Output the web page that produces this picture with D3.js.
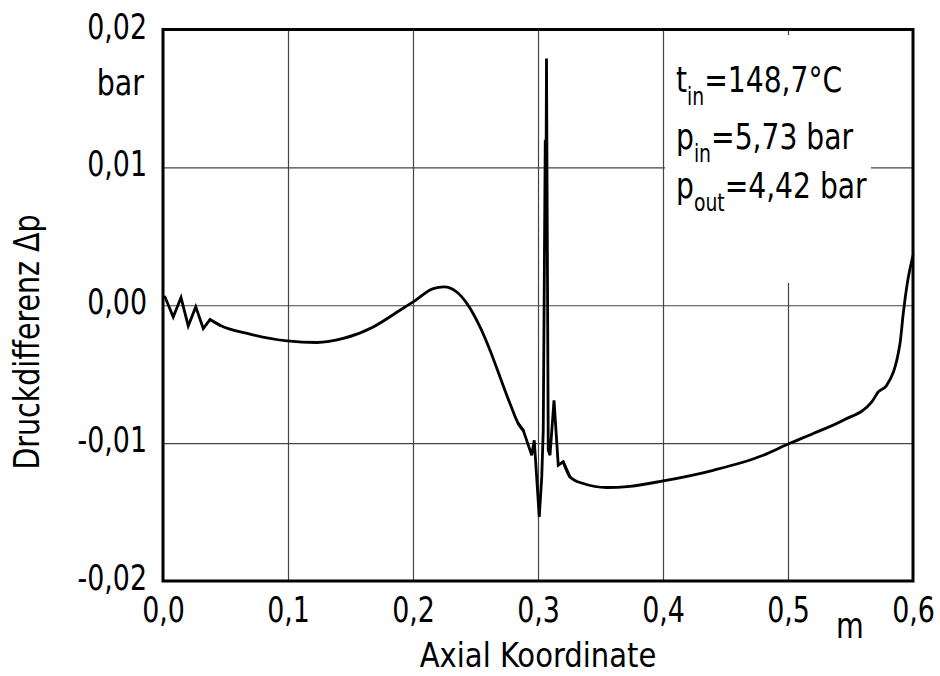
<!DOCTYPE html>
<html>
<head>
<meta charset="utf-8">
<script src="https://cdn.jsdelivr.net/npm/d3@7"></script>
<style>
  html, body { margin: 0; padding: 0; background: #fff; }
  svg { display: block; }
  text { font-family: "DejaVu Sans Condensed", "DejaVu Sans", sans-serif; fill: #000; }
</style>
</head>
<body>
<svg id="chart" width="940" height="676"></svg>
<script>
// ---- data ----
const xTicks = [0, 0.1, 0.2, 0.3, 0.4, 0.5, 0.6];
const xTickLabels = ["0,0", "0,1", "0,2", "0,3", "0,4", "0,5", "0,6"];
const yTicks = [-0.02, -0.01, 0.00, 0.01, 0.02];
const yTickLabels = ["-0,02", "-0,01", "0,00", "0,01", "0,02"];

// axial coordinate [m]
const axialX = [0.0016, 0.0082, 0.0144, 0.0202, 0.0262, 0.0322, 0.0376, 0.0456, 0.0696, 0.0994,
  0.1230, 0.1442, 0.1682, 0.1896, 0.2002, 0.2162, 0.2248, 0.2350, 0.2432, 0.2536,
  0.2616, 0.2696, 0.2776, 0.2842, 0.2882, 0.2950, 0.2970, 0.3010, 0.3030, 0.3042,
  0.3058, 0.3062, 0.3068, 0.3082, 0.3096, 0.3128, 0.3162, 0.3202, 0.3256, 0.3362,
  0.3550, 0.3736, 0.4002, 0.4402, 0.4802, 0.5010, 0.5202, 0.5442, 0.5670, 0.5722,
  0.5790, 0.5896, 0.5922, 0.5954, 0.6000];
// pressure difference [bar]
const deltaP = [0.00060, -0.00085, 0.00056, -0.00150, -0.00012, -0.00169, -0.00104, -0.00145, -0.00210, -0.00259,
  -0.00270, -0.00241, -0.00157, -0.00036, 0.00024, 0.00121, 0.00133, 0.00096, 0.00012, -0.00157,
  -0.00326, -0.00520, -0.00713, -0.00858, -0.00907, -0.01088, -0.00979, -0.01535, -0.01245, -0.00906,
  0.01200, 0.00400, 0.01789, -0.01050, -0.01088, -0.00689, -0.01160, -0.01136, -0.01245, -0.01293,
  -0.01322, -0.01313, -0.01274, -0.01197, -0.01088, -0.01003, -0.00930, -0.00834, -0.00701, -0.00629,
  -0.00580, -0.00278, -0.00060, 0.00157, 0.00360];
// index ranges: jagged parts drawn straight, smooth parts drawn with a monotone curve
const segments = [
  { from: 0, to: 7, smooth: false },
  { from: 6, to: 24, smooth: true },
  { from: 23, to: 38, smooth: false },
  { from: 37, to: 54, smooth: true }
];

const xUnit = "m";
const yUnit = "bar";
const xTitle = "Axial Koordinate";
const yTitle = "Druckdifferenz \u0394p";
const annoMain = ["t", "p", "p"];
const annoSub = ["in", "in", "out"];
const annoRest = ["=148,7\u00b0C", "=5,73 bar", "=4,42 bar"];

// ---- layout ----
const svg = d3.select("#chart");
const L = 163, R = 913, T = 29.5, B = 581;
const x = d3.scaleLinear().domain([0, 0.6]).range([L, R]);
const y = d3.scaleLinear().domain([-0.02, 0.02]).range([B, T]);
const FS = 36;
const SX_NUM = 0.83, SX_TXT = 0.88;

// gridlines
const gx = svg.append("g").attr("transform", `translate(0,${B})`)
  .call(d3.axisBottom(x).tickValues(xTicks.slice(1, -1)).tickSize(-(B - T)).tickFormat(""));
const gy = svg.append("g").attr("transform", `translate(${L},0)`)
  .call(d3.axisLeft(y).tickValues(yTicks.slice(1, -1)).tickSize(-(R - L)).tickFormat(""));
[gx, gy].forEach(g => {
  g.select(".domain").remove();
  g.selectAll(".tick line").attr("stroke", "#444").attr("stroke-width", 1.2);
});

// white background behind annotation
svg.append("rect").attr("x", 665).attr("y", 35).attr("width", 206).attr("height", 248).attr("fill", "#fff");

// curve
const pts = axialX.map((d, i) => [d, deltaP[i]]);
segments.forEach(s => {
  const line = d3.line().x(d => x(d[0])).y(d => y(d[1]))
    .curve(s.smooth ? d3.curveMonotoneX : d3.curveLinear);
  svg.append("path").datum(pts.slice(s.from, s.to + 1))
    .attr("d", line)
    .attr("fill", "none").attr("stroke", "#000").attr("stroke-width", 2.8)
    .attr("stroke-linejoin", "miter").attr("stroke-linecap", "round");
});

// frame
svg.append("rect").attr("x", L).attr("y", T).attr("width", R - L).attr("height", B - T)
  .attr("fill", "none").attr("stroke", "#000").attr("stroke-width", 3);

// x tick labels via axis
const ax = svg.append("g").attr("transform", `translate(0,${B})`)
  .call(d3.axisBottom(x).tickValues(xTicks).tickSize(0).tickPadding(0)
    .tickFormat((d, i) => xTickLabels[i]));
ax.select(".domain").remove();
ax.attr("font-family", null);
ax.selectAll("text").attr("font-size", FS).attr("dy", null).attr("x", 0).attr("y", 0)
  .attr("transform", `translate(0,41) scale(${SX_NUM},1)`);

// y tick labels via axis
const ay = svg.append("g").attr("transform", `translate(${L},0)`)
  .call(d3.axisLeft(y).tickValues(yTicks).tickSize(0).tickPadding(0)
    .tickFormat((d, i) => yTickLabels[i]));
ay.select(".domain").remove();
ay.attr("font-family", null);
ay.selectAll("text").attr("font-size", FS).attr("dy", null).attr("x", 0).attr("y", 0)
  .attr("transform", `translate(-16,8.5) scale(${SX_NUM},1)`);

// units
svg.append("text").attr("transform", `translate(144,95) scale(${SX_TXT},1)`).attr("text-anchor", "end")
  .attr("font-size", FS).text(yUnit);
svg.append("text").attr("transform", `translate(850,638) scale(${SX_TXT},1)`).attr("text-anchor", "middle")
  .attr("font-size", FS).text(xUnit);

// axis titles
svg.append("text").attr("transform", `translate(${(L + R) / 2},667) scale(0.95,1)`).attr("text-anchor", "middle")
  .attr("font-size", 34).text(xTitle);
svg.append("text").attr("transform", `translate(39,342) rotate(-90) scale(${SX_TXT},1)`)
  .attr("text-anchor", "middle").attr("font-size", FS).text(yTitle);

// annotation
const baselines = [92, 149, 198];
annoMain.forEach((m, i) => {
  const t = svg.append("text").attr("transform", `translate(676,${baselines[i]}) scale(0.87,1)`).attr("font-size", FS);
  t.append("tspan").text(m);
  t.append("tspan").attr("font-size", 24).attr("dy", 13).text(annoSub[i]);
  t.append("tspan").attr("dy", -13).text(annoRest[i]);
});
</script>
</body>
</html>
